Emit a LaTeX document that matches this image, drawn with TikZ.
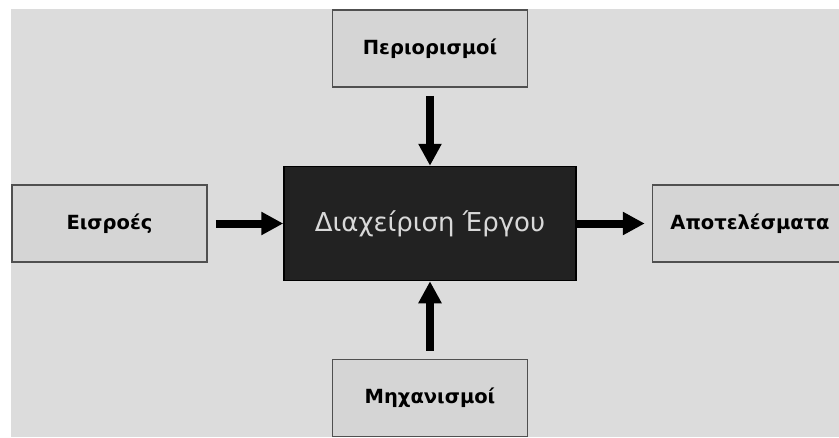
\documentclass[tikz,border=0pt]{standalone}
\usepackage{fontspec}
\setmainfont{DejaVu Sans}
\usetikzlibrary{arrows.meta}
\definecolor{bgc}{HTML}{DCDCDC}
\definecolor{boxc}{HTML}{D5D5D5}
\definecolor{edgec}{HTML}{505050}
\definecolor{corec}{HTML}{222222}
\definecolor{corefg}{HTML}{D9D9D9}
\begin{document}
\begin{tikzpicture}[x=1pt,y=-1pt,
  blk/.style={draw=edgec, line width=1.5pt, fill=boxc, minimum width=195pt,
    minimum height=77pt, inner sep=0pt, text=black,
    font=\bfseries\fontsize{19.5}{22}\selectfont},
  core/.style={draw=black, line width=1.5pt, fill=corec, minimum width=292pt,
    minimum height=114pt, inner sep=0pt, text=corefg,
    font=\fontsize{26}{30}\selectfont},
  flow/.style={line width=8pt, -{Triangle[length=22pt,width=22pt]},
    shorten <=8pt}
]
\useasboundingbox (0,0) rectangle (839,437);
\fill[white] (0,0) rectangle (839,437);
\fill[bgc] (11,9) rectangle (839,437);

% central process and its four surrounding boxes
\node[core] (pm) at (430,223.5) {Διαχείριση Έργου};
\node[blk] (lim) at (430,48.5) {Περιορισμοί};
\node[blk] (in) at (109.5,223.5) {Εισροές};
\node[blk] (out) at (750,223.5) {Αποτελέσματα};
\node[blk] (mech) at (430,398) {Μηχανισμοί};

% flows into and out of the process
\draw[flow] (lim) -- (pm);
\draw[flow] (in) -- (pm);
\draw[flow] (mech) -- (pm);
\draw[flow, shorten <=0pt, shorten >=7pt] (pm) -- (out);
\end{tikzpicture}
\end{document}
